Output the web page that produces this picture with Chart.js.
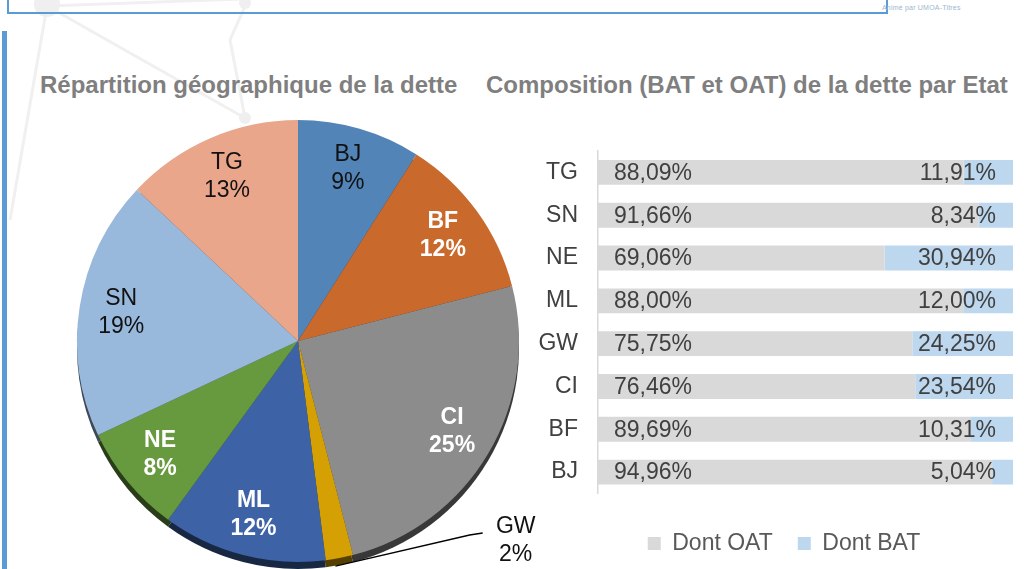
<!DOCTYPE html>
<html lang="fr">
<head>
  <meta charset="UTF-8">
  <title>Dette UEMOA</title>
  <script src="https://cdn.jsdelivr.net/npm/chart.js"></script>
  <style>
    html, body { margin: 0; padding: 0; background: #fff; overflow: hidden; }
    body { position: relative; width: 1024px; height: 569px; font-family: "Liberation Sans", Arial, sans-serif; }
    #bg { position: absolute; left: 0; top: 0; }
    #header { position: absolute; left: 7px; top: -40px; width: 877px; height: 50px; border: 2px solid #5b9bd5; }
    #brand { position: absolute; left: 882px; top: 4px; font-size: 7px; color: #9db6d2; letter-spacing: 0.2px; }
    #sidebar { position: absolute; left: 2px; top: 31px; width: 5px; height: 540px; background: #5b9bd5; }
    .title { position: absolute; top: 73px; font-size: 24px; line-height: 24px; font-weight: bold; color: #7f7f7f; white-space: nowrap; }
    #pieChart, #barChart { position: absolute; }
  </style>
</head>
<body>

  <svg id="bg" width="1024" height="569">
    <g stroke="#f0f0f0" stroke-width="3" fill="none">
      <line x1="47" y1="6" x2="10" y2="220" />
      <line x1="47" y1="6" x2="245" y2="118" />
      <line x1="47" y1="6" x2="330" y2="-4" />
      <line x1="245" y1="118" x2="230" y2="40" />
      <line x1="230" y1="40" x2="250" y2="-5" />
    </g>
    <circle cx="47" cy="4" r="13" fill="#efefef" />
    <circle cx="245" cy="3" r="6" fill="#efefef" />
    <circle cx="245" cy="118" r="6" fill="#efefef" />
  </svg>

  <div id="header"></div>
  <div id="brand">Animé par UMOA-Titres</div>
  <div id="sidebar"></div>

  <div class="title" style="left:40px;">Répartition géographique de la dette</div>
  <div class="title" style="left:486px;">Composition (BAT et OAT) de la dette par Etat</div>

  <canvas id="pieChart" width="500" height="456" style="left:55px; top:118px;"></canvas>
  <canvas id="barChart" width="504" height="429" style="left:520px; top:140px;"></canvas>

  <script>
    // pie : part de chaque Etat dans la dette (%)
    var pieLabels = ['BJ', 'BF', 'CI', 'GW', 'ML', 'NE', 'SN', 'TG'];
    var pieValues = [9, 12, 25, 2, 12, 8, 19, 13];
    var pieColors = ['#5384b7', '#c96a2c', '#8c8c8c', '#d4a004', '#3d62a6', '#67993f', '#99b9dc', '#eaa68a'];
    var pieTextColors = ['#111', '#fff', '#fff', '#111', '#fff', '#fff', '#111', '#111'];

    // barres : composition OAT / BAT par Etat (%)
    var barLabels = ['TG', 'SN', 'NE', 'ML', 'GW', 'CI', 'BF', 'BJ'];
    var oatValues = [88.09, 91.66, 69.06, 88.00, 75.75, 76.46, 89.69, 94.96];
    var batValues = [11.91, 8.34, 30.94, 12.00, 24.25, 23.54, 10.31, 5.04];

    var FONT = '"Liberation Sans", Arial, sans-serif';

    function shade(hex, f) {
      var n = parseInt(hex.slice(1), 16);
      var r = Math.round(((n >> 16) & 255) * f);
      var g = Math.round(((n >> 8) & 255) * f);
      var b = Math.round((n & 255) * f);
      return 'rgb(' + r + ',' + g + ',' + b + ')';
    }

    // dark edge under the pie, like the 3D look of the original
    var pieRim = {
      id: 'pieRim',
      beforeDatasetsDraw: function(chart) {
        var ctx = chart.ctx;
        chart.getDatasetMeta(0).data.forEach(function(arc, i) {
          ctx.save();
          ctx.beginPath();
          ctx.moveTo(arc.x, arc.y + 7);
          ctx.arc(arc.x, arc.y + 7, arc.outerRadius, arc.startAngle, arc.endAngle);
          ctx.closePath();
          ctx.fillStyle = shade(pieColors[i], 0.4);
          ctx.fill();
          ctx.restore();
        });
      }
    };

    var pieText = {
      id: 'pieText',
      afterDatasetsDraw: function(chart) {
        var ctx = chart.ctx;
        var total = pieValues.reduce(function(a, b) { return a + b; }, 0);
        chart.getDatasetMeta(0).data.forEach(function(arc, i) {
          var mid = (arc.startAngle + arc.endAngle) / 2;
          var r = arc.outerRadius;
          var pct = Math.round(pieValues[i] / total * 100) + '%';
          var lx, ly;
          ctx.save();
          if (pieValues[i] / total < 0.05) {
            // small slice : label outside with a leader line
            lx = arc.x + r * 0.985;
            ly = arc.y + r * 0.905;
            ctx.strokeStyle = '#000';
            ctx.lineWidth = 1.3;
            ctx.beginPath();
            ctx.moveTo(arc.x + Math.cos(mid) * r - 4, arc.y + Math.sin(mid) * r + 8);
            ctx.lineTo(lx - 46, ly - 6);
            ctx.lineTo(lx - 33, ly - 8);
            ctx.stroke();
          } else {
            lx = arc.x + Math.cos(mid) * r * 0.81;
            ly = arc.y + Math.sin(mid) * r * 0.81;
          }
          var white = pieTextColors[i] === '#fff';
          ctx.font = (white ? 'bold ' : '') + '23px ' + FONT;
          ctx.fillStyle = pieTextColors[i];
          ctx.textAlign = 'center';
          ctx.textBaseline = 'middle';
          ctx.fillText(pieLabels[i], lx, ly - 14);
          ctx.fillText(pct, lx, ly + 14);
          ctx.restore();
        });
      }
    };

    new Chart(document.getElementById('pieChart'), {
      type: 'pie',
      data: {
        labels: pieLabels,
        datasets: [{
          data: pieValues,
          backgroundColor: pieColors,
          borderWidth: 0
        }]
      },
      options: {
        responsive: false,
        animation: false,
        layout: { padding: { top: 2, bottom: 12, left: 22, right: 36 } },
        plugins: {
          legend: { display: false },
          tooltip: { enabled: false }
        }
      },
      plugins: [pieRim, pieText]
    });

    function fmt(v) {
      return v.toFixed(2).replace('.', ',') + '%';
    }

    var barText = {
      id: 'barText',
      afterDatasetsDraw: function(chart) {
        var ctx = chart.ctx;
        ctx.save();
        ctx.font = '23px ' + FONT;
        ctx.fillStyle = '#404040';
        ctx.textBaseline = 'middle';
        ctx.textAlign = 'left';
        chart.getDatasetMeta(0).data.forEach(function(bar, i) {
          ctx.fillText(fmt(oatValues[i]), bar.base + 16, bar.y + 1);
        });
        ctx.textAlign = 'right';
        chart.getDatasetMeta(1).data.forEach(function(bar, i) {
          ctx.fillText(fmt(batValues[i]), bar.x - 17, bar.y + 1);
        });
        ctx.restore();
      }
    };

    // legend sits a bit right of the canvas centre in the original
    var legendShift = {
      id: 'legendShift',
      afterLayout: function(chart) {
        chart.legend.left += 35;
      }
    };

    new Chart(document.getElementById('barChart'), {
      type: 'bar',
      data: {
        labels: barLabels,
        datasets: [
          { label: 'Dont OAT', data: oatValues, backgroundColor: '#d9d9d9' },
          { label: 'Dont BAT', data: batValues, backgroundColor: '#bdd7ee' }
        ]
      },
      options: {
        indexAxis: 'y',
        responsive: false,
        animation: false,
        datasets: { bar: { categoryPercentage: 1, barPercentage: 0.58 } },
        layout: { padding: { top: 11, right: 11, bottom: 4, left: 0 } },
        scales: {
          x: {
            stacked: true,
            min: 0,
            max: 100,
            grid: { display: false, drawTicks: false },
            border: { display: false },
            ticks: { display: false },
            afterFit: function(scale) {
              scale.height = 13.5;
              scale.paddingLeft = 0;
              scale.paddingRight = 0;
            }
          },
          y: {
            stacked: true,
            grid: { display: false, drawTicks: false },
            border: { display: true, color: '#d9d9d9', width: 1.5 },
            ticks: { color: '#404040', padding: 20, font: { size: 23, family: FONT } },
            afterFit: function(scale) {
              scale.width = 78;
              scale.paddingTop = 0;
              scale.paddingBottom = 0;
            }
          }
        },
        plugins: {
          legend: {
            position: 'bottom',
            labels: {
              boxWidth: 13,
              boxHeight: 13,
              padding: 25,
              color: '#595959',
              font: { size: 23, family: FONT }
            }
          },
          tooltip: { enabled: false }
        }
      },
      plugins: [barText, legendShift]
    });
  </script>

</body>
</html>
